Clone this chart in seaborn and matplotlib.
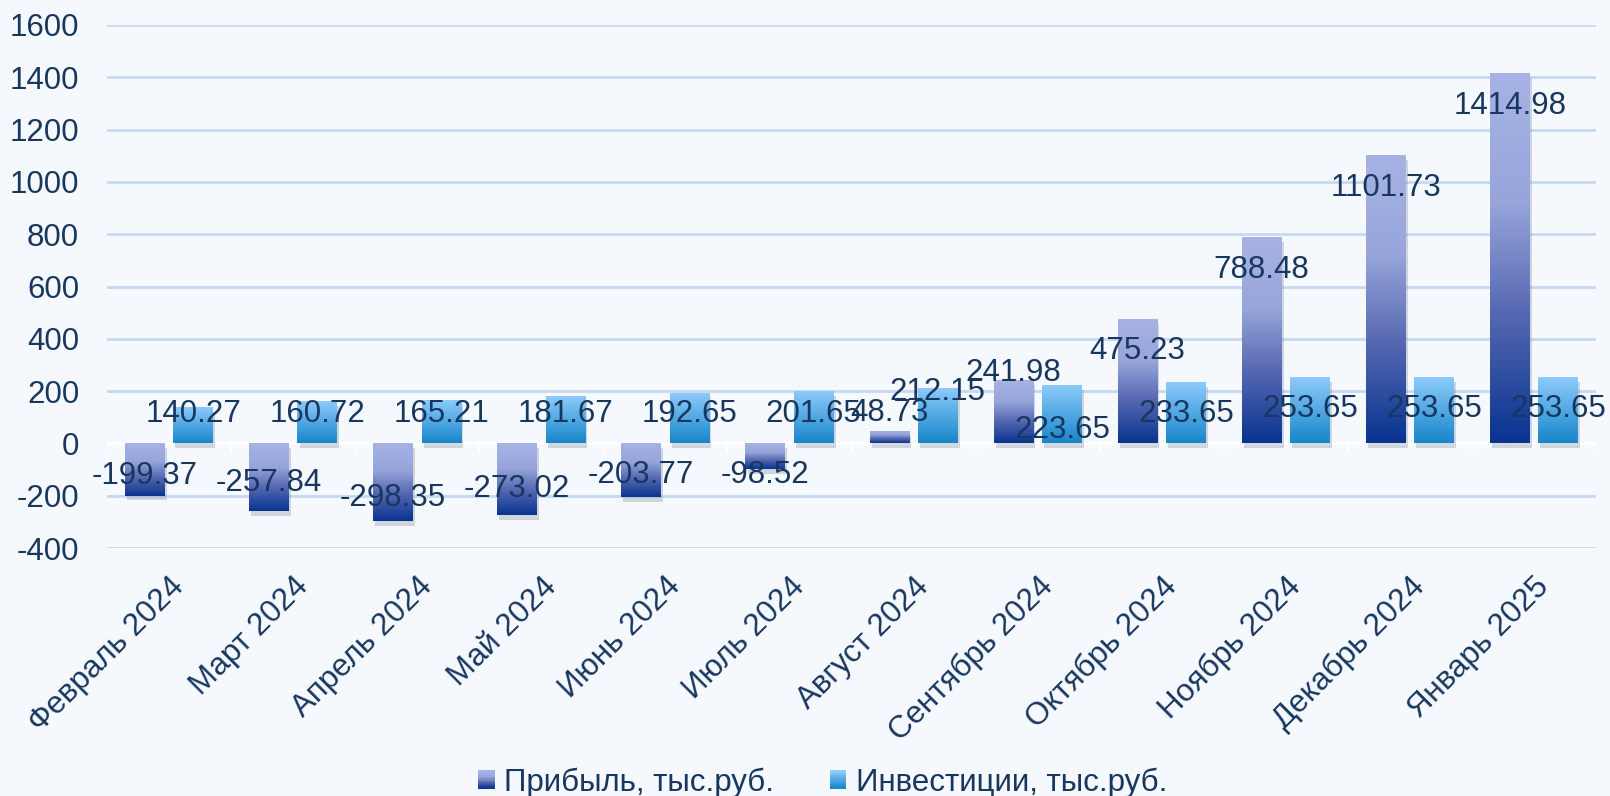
import numpy as np
import pandas as pd
import matplotlib
matplotlib.use("Agg")
import matplotlib.pyplot as plt
import seaborn as sns
from matplotlib.colors import LinearSegmentedColormap
from matplotlib.legend_handler import HandlerBase
from matplotlib.patches import Rectangle
from matplotlib import patheffects as pe

MONTHS = ["Февраль 2024", "Март 2024", "Апрель 2024", "Май 2024", "Июнь 2024",
          "Июль 2024", "Август 2024", "Сентябрь 2024", "Октябрь 2024",
          "Ноябрь 2024", "Декабрь 2024", "Январь 2025"]
PROFIT = [-199.37, -257.84, -298.35, -273.02, -203.77, -98.52,
          48.73, 241.98, 475.23, 788.48, 1101.73, 1414.98]
INVEST = [140.27, 160.72, 165.21, 181.67, 192.65, 201.65,
          212.15, 223.65, 233.65, 253.65, 253.65, 253.65]
SERIES = ["Прибыль, тыс.руб.", "Инвестиции, тыс.руб."]
Y_TICKS = list(range(-400, 1601, 200))

# where the data labels sit (value-axis units), as left by the original chart
PROFIT_LABEL_Y = [-126, -153, -208, -174, -119, -119, 115, 268, 352, 665, 977, 1290]
INVEST_LABEL_Y = [111, 111, 111, 111, 111, 111, 195, 50, 111, 130, 130, 130]

BG = "#F5F8FD"
TEXT = "#17375E"
GRID = "#C6D9F1"

profit_cmap = LinearSegmentedColormap.from_list(
    "profit", [(0, "#A7B3E6"), (0.35, "#97A5DA"), (0.65, "#5668B2"), (1, "#08348F")])
invest_cmap = LinearSegmentedColormap.from_list(
    "invest", [(0, "#90CCFC"), (1, "#1686CA")])
CMAPS = [profit_cmap, invest_cmap]


class GradientHandler(HandlerBase):
    def __init__(self, cmap, steps=16):
        super().__init__()
        self.cmap = cmap
        self.steps = steps

    def create_artists(self, legend, orig_handle, xdescent, ydescent,
                       width, height, fontsize, trans):
        arts = []
        for k in range(self.steps):
            y = -ydescent + height * (1 - (k + 1) / self.steps)
            arts.append(Rectangle((-xdescent, y), width, height / self.steps,
                                  facecolor=self.cmap(k / (self.steps - 1)),
                                  lw=0, transform=trans))
        return arts


def main():
    sns.set_theme(style="whitegrid")
    plt.rcParams["font.family"] = ["Liberation Sans", "DejaVu Sans"]
    plt.rcParams["axes.unicode_minus"] = False

    df = pd.DataFrame({
        "month": MONTHS * 2,
        "series": [SERIES[0]] * len(MONTHS) + [SERIES[1]] * len(MONTHS),
        "value": PROFIT + INVEST,
    })

    fig = plt.figure(figsize=(16.1, 7.96), dpi=100, facecolor=BG)
    ax = fig.add_axes([107 / 1610, 1 - 548 / 796, 1489 / 1610, 523 / 796])
    ax.set_facecolor(BG)

    sns.barplot(data=df, x="month", y="value", hue="series", hue_order=SERIES,
                palette=["#6C7EC0", "#4FA9E6"], width=0.78, gap=0.18,
                errorbar=None, legend=False, saturation=1, ax=ax, zorder=3)

    # gradient fill + soft shadow on every bar
    grad = np.linspace(0, 1, 256).reshape(-1, 1)
    for container, cmap, labels_y in zip(ax.containers, CMAPS, [PROFIT_LABEL_Y, INVEST_LABEL_Y]):
        for bar, ly in zip(container, labels_y):
            x0, w = bar.get_x(), bar.get_width()
            y0, h = bar.get_y(), bar.get_height()
            lo, hi = min(y0, y0 + h), max(y0, y0 + h)
            bar.set_path_effects([pe.SimplePatchShadow(offset=(1.5, -3.5),
                                                       shadow_rgbFace="#7A8494", alpha=0.3),
                                  pe.Normal()])
            bar.set_linewidth(0)
            im = ax.imshow(grad, cmap=cmap, aspect="auto", extent=(x0, x0 + w, lo, hi),
                           origin="upper", zorder=3.5, interpolation="bilinear")
            im.set_clip_path(bar)
            val = y0 + h
            ax.text(x0 + w / 2, ly, f"{val:.2f}", ha="center", va="center",
                    fontsize=22.5, color=TEXT, zorder=6)

    ax.set_xlim(-0.5, len(MONTHS) - 0.5)
    ax.set_ylim(Y_TICKS[0], Y_TICKS[-1])
    ax.set_yticks(Y_TICKS)
    ax.set_aspect("auto")

    ax.yaxis.grid(True, color=GRID, lw=2)
    ax.xaxis.grid(False)
    ax.set_axisbelow(True)
    for s in ax.spines.values():
        s.set_visible(False)

    # white zero line with category separators
    ax.axhline(0, color="white", lw=2.5, zorder=2.5)
    ax.vlines(np.arange(len(MONTHS) + 1) - 0.5, -34, 0, color="white", lw=1.5, zorder=2.5)

    ax.set_xlabel("")
    ax.set_ylabel("")
    ax.tick_params(axis="y", labelsize=22.5, labelcolor=TEXT, length=0, pad=20)
    ax.tick_params(axis="x", labelsize=22.5, labelcolor=TEXT, length=0, pad=17)
    ax.set_xticks(range(len(MONTHS)))
    ax.set_xticklabels(MONTHS, rotation=45, ha="right", rotation_mode="anchor")

    handles = [Rectangle((0, 0), 1, 1) for _ in SERIES]
    fig.legend(handles, SERIES, loc="center", bbox_to_anchor=(0.511, 0.017), ncol=2,
               frameon=False, fontsize=22.5, labelcolor=TEXT,
               handlelength=0.52, handleheight=0.52, handletextpad=0.3, columnspacing=1.8,
               handler_map={h: GradientHandler(c) for h, c in zip(handles, CMAPS)})

    fig.savefig("out.png", dpi=100, facecolor=BG)


if __name__ == "__main__":
    main()
